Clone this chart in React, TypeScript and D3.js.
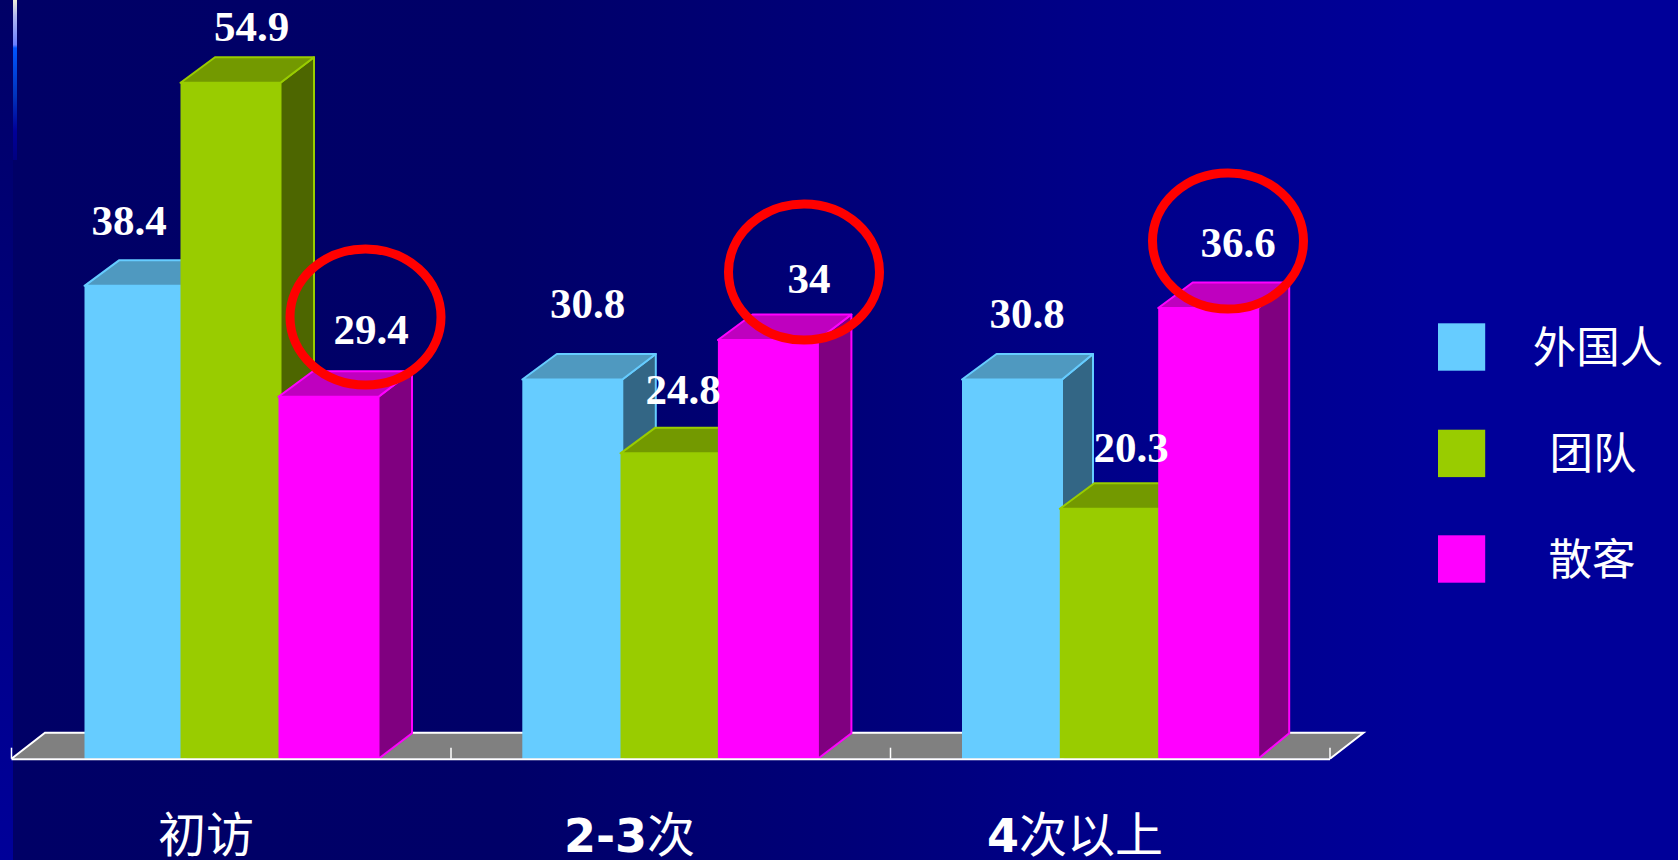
import React from "react";
import * as d3 from "d3";

// Share of visitors (%) by visit frequency and travel mode
const categories = ["初访", "2-3次", "4次以上"];
const seriesNames = ["外国人", "团队", "散客"];
const foreigners = [38.4, 30.8, 30.8];
const tourGroups = [54.9, 24.8, 20.3];
const independents = [29.4, 34, 36.6];
const seriesValues = [foreigners, tourGroups, independents];

// Layout constants
const W = 1678;
const H = 860;
const BASE_Y = 758.7;
const TOP_Y = 82.7;
const MAX_VALUE = 54.9;
const BAR_W = 100;
const DEPTH_LEFT = 34.5;
const DEPTH_RIGHT = [33.5, 33.5, 31];
const DEPTH_Y = 25.5;
const SANS_CJK = "'Noto Sans CJK SC', sans-serif";

const faceColors = [
  { front: "#66CCFF", top: "#4F99C0", side: "#336685", edge: "#66CCFF" },
  { front: "#99CC00", top: "#739900", side: "#4D6600", edge: "#99CC00" },
  { front: "#FF00FF", top: "#BF00BF", side: "#800080", edge: "#FF00FF" },
];

// Left edge of each bar, cluster by cluster
const clusterLefts = [
  [84.5, 180.5, 278.5],
  [522.3, 620.5, 717.9],
  [962, 1059.8, 1158.2],
];

// Value label anchors: horizontal centre and height of the baseline above the bar top
const labelCentres = [
  [129, 251.7, 371],
  [587.5, 683, 809],
  [1027, 1131, 1238],
];
const labelLifts = [
  [50.7, 41.7, 52.7],
  [61.7, 49.7, 46.7],
  [51.7, 46.7, 50.7],
];

// Highlight rings around the independent-traveller labels
const ringCentres = [
  [365.5, 317],
  [804, 272],
  [1228, 241],
];

const legendTextCentres = [1598, 1593, 1592];
const legendRowTops = [323.3, 429.7, 535.3];

const axisLabelCentres = [206, 629.5, 1075];

const y = d3.scaleLinear().domain([0, MAX_VALUE]).range([BASE_Y, TOP_Y]);
const band = d3.scaleBand<string>().domain(categories).range([11.5, 1330]);
const clusterScales = clusterLefts.map((lefts) =>
  d3.scaleOrdinal<string, number>().domain(seriesNames).range(lefts)
);

const pts = (list: number[][]) => list.map((p) => p.join(",")).join(" ");

function Bar({ x, value, colors, depthRight }: any) {
  const t = y(value);
  const r = x + BAR_W;
  return (
    <g strokeWidth={2} stroke={colors.edge} strokeLinejoin="round">
      <polygon
        fill={colors.side}
        points={pts([
          [r, t],
          [r + depthRight, t - DEPTH_Y],
          [r + depthRight, BASE_Y - DEPTH_Y],
          [r, BASE_Y],
        ])}
      />
      <polygon
        fill={colors.top}
        points={pts([
          [x, t],
          [x + DEPTH_LEFT, t - DEPTH_Y],
          [r + depthRight, t - DEPTH_Y],
          [r, t],
        ])}
      />
      <rect x={x} y={t} width={BAR_W} height={BASE_Y - t} fill={colors.front} stroke="none" />
    </g>
  );
}

function AxisLabel({ text, x }: { text: string; x: number }) {
  // Digits use a heavy sans face, the Chinese characters a regular one
  const parts = text.match(/[0-9-]+|[^0-9-]+/g) || [];
  return (
    <text x={x} y={851.5} textAnchor="middle" fontSize={48} fill="#fff">
      {parts.map((part, i) =>
        /[0-9-]/.test(part[0]) ? (
          <tspan key={i} fontFamily="'DejaVu Sans', sans-serif" fontWeight={700} fontSize={46}>
            {part}
          </tspan>
        ) : (
          <tspan key={i} fontFamily={SANS_CJK}>
            {part}
          </tspan>
        )
      )}
    </text>
  );
}

export default function App() {
  const tickXs = [...categories.map((c) => band(c) as number), 1330];
  const floorLeft = tickXs[0];
  const floorRight = tickXs[tickXs.length - 1];

  return (
    <svg
      width={W}
      height={H}
      viewBox={`0 0 ${W} ${H}`}
      style={{ position: "fixed", left: 0, top: 0, display: "block" }}
    >
      <defs>
        <linearGradient id="slideBg" x1="0" x2="1" y1="0" y2="0">
          <stop offset="0" stopColor="#000066" />
          <stop offset="0.3" stopColor="#000068" />
          <stop offset="0.5" stopColor="#000078" />
          <stop offset="0.65" stopColor="#000088" />
          <stop offset="0.85" stopColor="#000099" />
          <stop offset="1" stopColor="#000099" />
        </linearGradient>
        <linearGradient id="edgeStrip" x1="0" x2="0" y1="0" y2="1">
          <stop offset="0" stopColor="#000066" />
          <stop offset="0.5" stopColor="#000080" />
          <stop offset="1" stopColor="#000099" />
        </linearGradient>
        <linearGradient id="accent" x1="0" x2="0" y1="0" y2="1">
          <stop offset="0" stopColor="#EFEFD8" />
          <stop offset="0.1" stopColor="#B0B8F0" />
          <stop offset="0.28" stopColor="#6A80FF" />
          <stop offset="0.3" stopColor="#0055FF" />
          <stop offset="0.6" stopColor="#0033BB" />
          <stop offset="0.82" stopColor="#000099" />
          <stop offset="1" stopColor="#000080" />
        </linearGradient>
      </defs>

      <rect width={W} height={H} fill="url(#slideBg)" />
      <rect width={13} height={H} fill="url(#edgeStrip)" />
      <rect x={13} width={4} height={160} fill="url(#accent)" />

      {/* Chart floor */}
      <polygon
        fill="#808080"
        points={pts([
          [floorLeft, BASE_Y],
          [floorLeft + 33.5, BASE_Y - 26],
          [floorRight + 33.5, BASE_Y - 26],
          [floorRight, BASE_Y],
        ])}
      />
      <polyline
        fill="none"
        stroke="#fff"
        strokeWidth={2}
        points={pts([
          [floorLeft, BASE_Y],
          [floorLeft + 33.5, BASE_Y - 26],
          [floorRight + 33.5, BASE_Y - 26],
          [floorRight, BASE_Y],
        ])}
      />
      {tickXs.map((x) => (
        <line key={x} x1={x} x2={x} y1={BASE_Y - 11} y2={BASE_Y} stroke="#fff" strokeWidth={1.5} />
      ))}

      {/* Clustered 3D columns */}
      {categories.map((cat, ci) => (
        <g key={cat}>
          {seriesNames.map((name, si) => (
            <Bar
              key={name}
              x={clusterScales[ci](name)}
              value={seriesValues[si][ci]}
              colors={faceColors[si]}
              depthRight={DEPTH_RIGHT[ci]}
            />
          ))}
        </g>
      ))}

      <line x1={floorLeft} x2={floorRight} y1={BASE_Y + 0.5} y2={BASE_Y + 0.5} stroke="#fff" strokeWidth={2} />

      {/* Value labels */}
      {categories.map((cat, ci) =>
        seriesNames.map((name, si) => (
          <text
            key={cat + name}
            x={labelCentres[ci][si]}
            y={y(seriesValues[si][ci]) - labelLifts[ci][si]}
            textAnchor="middle"
            fontFamily="'Liberation Serif', serif"
            fontWeight={700}
            fontSize={43}
            fill="#fff"
          >
            {seriesValues[si][ci]}
          </text>
        ))
      )}

      {/* Highlight rings */}
      {ringCentres.map(([cx, cy]) => (
        <ellipse key={cx} cx={cx} cy={cy} rx={75.5} ry={68} fill="none" stroke="#FF0000" strokeWidth={9} />
      ))}

      {/* Legend */}
      {seriesNames.map((name, si) => (
        <g key={name}>
          <rect x={1438} y={legendRowTops[si]} width={47.2} height={47.4} fill={faceColors[si].front} />
          <text
            x={legendTextCentres[si]}
            y={legendRowTops[si] + 39.5}
            textAnchor="middle"
            fontFamily={SANS_CJK}
            fontSize={43.5}
            fill="#fff"
          >
            {name}
          </text>
        </g>
      ))}

      {/* Category labels */}
      {categories.map((cat, ci) => (
        <AxisLabel key={cat} text={cat} x={axisLabelCentres[ci]} />
      ))}
    </svg>
  );
}
